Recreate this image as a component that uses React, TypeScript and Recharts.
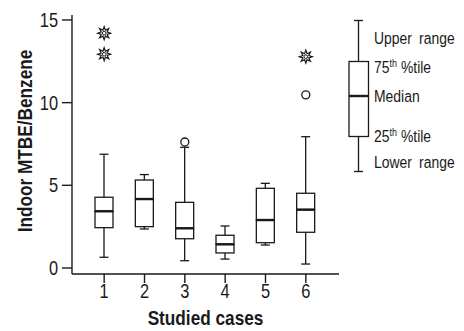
import React from 'react';
import { ComposedChart, Bar, Scatter, XAxis, YAxis, ReferenceArea, Customized } from 'recharts';

const cases = ['1', '2', '3', '4', '5', '6'];
const mins = [0.65, 2.36, 0.44, 0.54, 1.39, 0.24];
const q1s = [2.44, 2.5, 1.77, 0.91, 1.53, 2.16];
const medians = [3.43, 4.17, 2.4, 1.43, 2.9, 3.53];
const q3s = [4.28, 5.32, 3.97, 1.98, 4.82, 4.52];
const maxs = [6.88, 5.65, 7.3, 2.54, 5.12, 7.94];
const starOutliersA: (number | null)[] = [14.2, null, null, null, null, 12.78];
const starOutliersB: (number | null)[] = [12.93, null, null, null, null, null];
const circleOutliers: (number | null)[] = [null, null, 7.62, null, null, 10.47];
const yTicks = [0, 5, 10, 15];
const legendLabels = ['Upper range', '75', 'Median', '25', 'Lower range'];

const data = cases.map((c, i) => ({
  case: c,
  base: mins[i],
  lowW: q1s[i] - mins[i],
  boxLow: medians[i] - q1s[i],
  boxHigh: q3s[i] - medians[i],
  highW: maxs[i] - q3s[i],
  starA: starOutliersA[i],
  starB: starOutliersB[i],
  circ: circleOutliers[i],
}));

const FONT = "'Liberation Sans', Arial, sans-serif";
const NARROW = 0.82;
const INK = '#1a1a1a';
const SW = 1.3;
const CAP = 9;

const NText = ({ x, y, anchor = 'start', size, bold = false, rotate = 0, children }: any) => (
  <g transform={`translate(${x},${y}) rotate(${rotate}) scale(${NARROW},1)`}>
    <text x={0} y={0} textAnchor={anchor} fontFamily={FONT} fontSize={size} fontWeight={bold ? 'bold' : 'normal'} fill={INK}>
      {children}
    </text>
  </g>
);

const XTick = (p: any) => {
  const { x, y, payload } = p;
  return <NText x={x} y={y + 15} anchor="middle" size={20}>{payload.value}</NText>;
};
const YTick = (p: any) => {
  const { x, y, payload } = p;
  return <NText x={x} y={y + 7} anchor="end" size={20}>{payload.value}</NText>;
};

const LowWhisker = (p: any) => {
  const { x, y, width, height } = p;
  const cx = x + width / 2;
  return (
    <g>
      <line x1={cx} x2={cx} y1={y} y2={y + height} stroke={INK} strokeWidth={SW} />
      <line x1={cx - CAP / 2} x2={cx + CAP / 2} y1={y + height} y2={y + height} stroke={INK} strokeWidth={SW} />
    </g>
  );
};
const HighWhisker = (p: any) => {
  const { x, y, width, height } = p;
  const cx = x + width / 2;
  return (
    <g>
      <line x1={cx} x2={cx} y1={y} y2={y + height} stroke={INK} strokeWidth={SW} />
      <line x1={cx - CAP / 2} x2={cx + CAP / 2} y1={y} y2={y} stroke={INK} strokeWidth={SW} />
    </g>
  );
};
const BoxLow = (p: any) => {
  const { x, y, width, height } = p;
  return (
    <g>
      <rect x={x} y={y} width={width} height={height} fill="#fff" stroke={INK} strokeWidth={SW} />
      <line x1={x} x2={x + width} y1={y} y2={y} stroke={INK} strokeWidth={2.4} />
    </g>
  );
};
const BoxHigh = (p: any) => {
  const { x, y, width, height } = p;
  return <rect x={x} y={y} width={width} height={height} fill="none" stroke={INK} strokeWidth={SW} />;
};

const starPoints = (cx: number, cy: number, ro: number, ri: number, n: number) => {
  const pts: string[] = [];
  for (let k = 0; k < n * 2; k++) {
    const r = k % 2 === 0 ? ro : ri;
    const a = (Math.PI * k) / n - Math.PI / 2;
    pts.push(`${cx + r * Math.cos(a)},${cy + r * Math.sin(a)}`);
  }
  return pts.join(' ');
};

const makeStar = (key: string) => (p: any) => {
  const { cx, cy, payload } = p;
  if (!payload || payload[key] == null) return <g />;
  return (
    <g>
      <polygon points={starPoints(cx, cy, 6.5, 3.2, 8)} fill="#fff" stroke={INK} strokeWidth={1.2} />
      <circle cx={cx} cy={cy} r={1.8} fill="#fff" stroke={INK} strokeWidth={1} />
    </g>
  );
};
const CircleShape = (p: any) => {
  const { cx, cy, payload } = p;
  if (!payload || payload.circ == null) return <g />;
  return <circle cx={cx} cy={cy} r={4} fill="#fff" stroke={INK} strokeWidth={1.3} />;
};

const LegendGlyph = () => {
  const cx = 358.5;
  const top = 20.5, q3 = 61.5, med = 96, q1 = 136.5, bot = 171.5;
  const tx = 374;
  const fs = 17;
  const sup = (base: string, y: number) => (
    <NText x={tx} y={y} size={fs}>
      {base}
      <tspan fontSize={11} dy={-6}>th</tspan>
      <tspan dy={6}> %tile</tspan>
    </NText>
  );
  return (
    <g>
      <line x1={cx} x2={cx} y1={top} y2={q3} stroke={INK} strokeWidth={SW} />
      <line x1={cx - 4.5} x2={cx + 4.5} y1={top} y2={top} stroke={INK} strokeWidth={SW} />
      <rect x={349} y={q3} width={19.5} height={q1 - q3} fill="#fff" stroke={INK} strokeWidth={SW} />
      <line x1={349} x2={368.5} y1={med} y2={med} stroke={INK} strokeWidth={2.4} />
      <line x1={cx} x2={cx} y1={q1} y2={bot} stroke={INK} strokeWidth={SW} />
      <line x1={cx - 4.5} x2={cx + 4.5} y1={bot} y2={bot} stroke={INK} strokeWidth={SW} />
      <NText x={tx} y={44} size={fs}><tspan style={{ wordSpacing: 4 }}>{legendLabels[0]}</tspan></NText>
      {sup(legendLabels[1], 73)}
      <NText x={tx} y={102} size={fs}>{legendLabels[2]}</NText>
      {sup(legendLabels[3], 142)}
      <NText x={tx} y={168} size={fs}><tspan style={{ wordSpacing: 4 }}>{legendLabels[4]}</tspan></NText>
    </g>
  );
};

export default function App() {
  return (
    <div style={{ position: 'absolute', left: 0, top: 0, width: 464, height: 331, background: '#fff' }}>
      <ComposedChart width={464} height={331} data={data} margin={{ top: 15, right: 125, bottom: 0, left: 0 }} barSize={18}>
        <XAxis
          dataKey="case"
          height={57}
          padding={{ left: 12, right: 13 }}
          tickSize={9}
          tickMargin={0}
          axisLine={{ stroke: INK, strokeWidth: 1.4 }}
          tickLine={{ stroke: INK, strokeWidth: 1.4 }}
          tick={XTick}
          label={() => (
            <NText x={205.5} y={325} anchor="middle" size={21} bold>Studied cases</NText>
          )}
        />
        <YAxis
          type="number"
          width={72}
          domain={[-0.363, 15.3]}
          ticks={yTicks}
          tickSize={10}
          tickMargin={4}
          axisLine={{ stroke: INK, strokeWidth: 1.4 }}
          tickLine={{ stroke: INK, strokeWidth: 1.4 }}
          tick={YTick}
          label={() => (
            <NText x={32} y={141} anchor="middle" size={21} bold rotate={-90}>Indoor MTBE/Benzene</NText>
          )}
        />
        <ReferenceArea fill="none" stroke={INK} strokeWidth={1.4} fillOpacity={0} ifOverflow="visible" />
        <Bar dataKey="base" stackId="b" fill="none" isAnimationActive={false} shape={() => <g />} />
        <Bar dataKey="lowW" stackId="b" isAnimationActive={false} shape={LowWhisker} />
        <Bar dataKey="boxLow" stackId="b" isAnimationActive={false} shape={BoxLow} />
        <Bar dataKey="boxHigh" stackId="b" isAnimationActive={false} shape={BoxHigh} />
        <Bar dataKey="highW" stackId="b" isAnimationActive={false} shape={HighWhisker} />
        <Scatter dataKey="starA" isAnimationActive={false} shape={makeStar('starA')} />
        <Scatter dataKey="starB" isAnimationActive={false} shape={makeStar('starB')} />
        <Scatter dataKey="circ" isAnimationActive={false} shape={CircleShape} />
        <Customized component={LegendGlyph} />
      </ComposedChart>
    </div>
  );
}
